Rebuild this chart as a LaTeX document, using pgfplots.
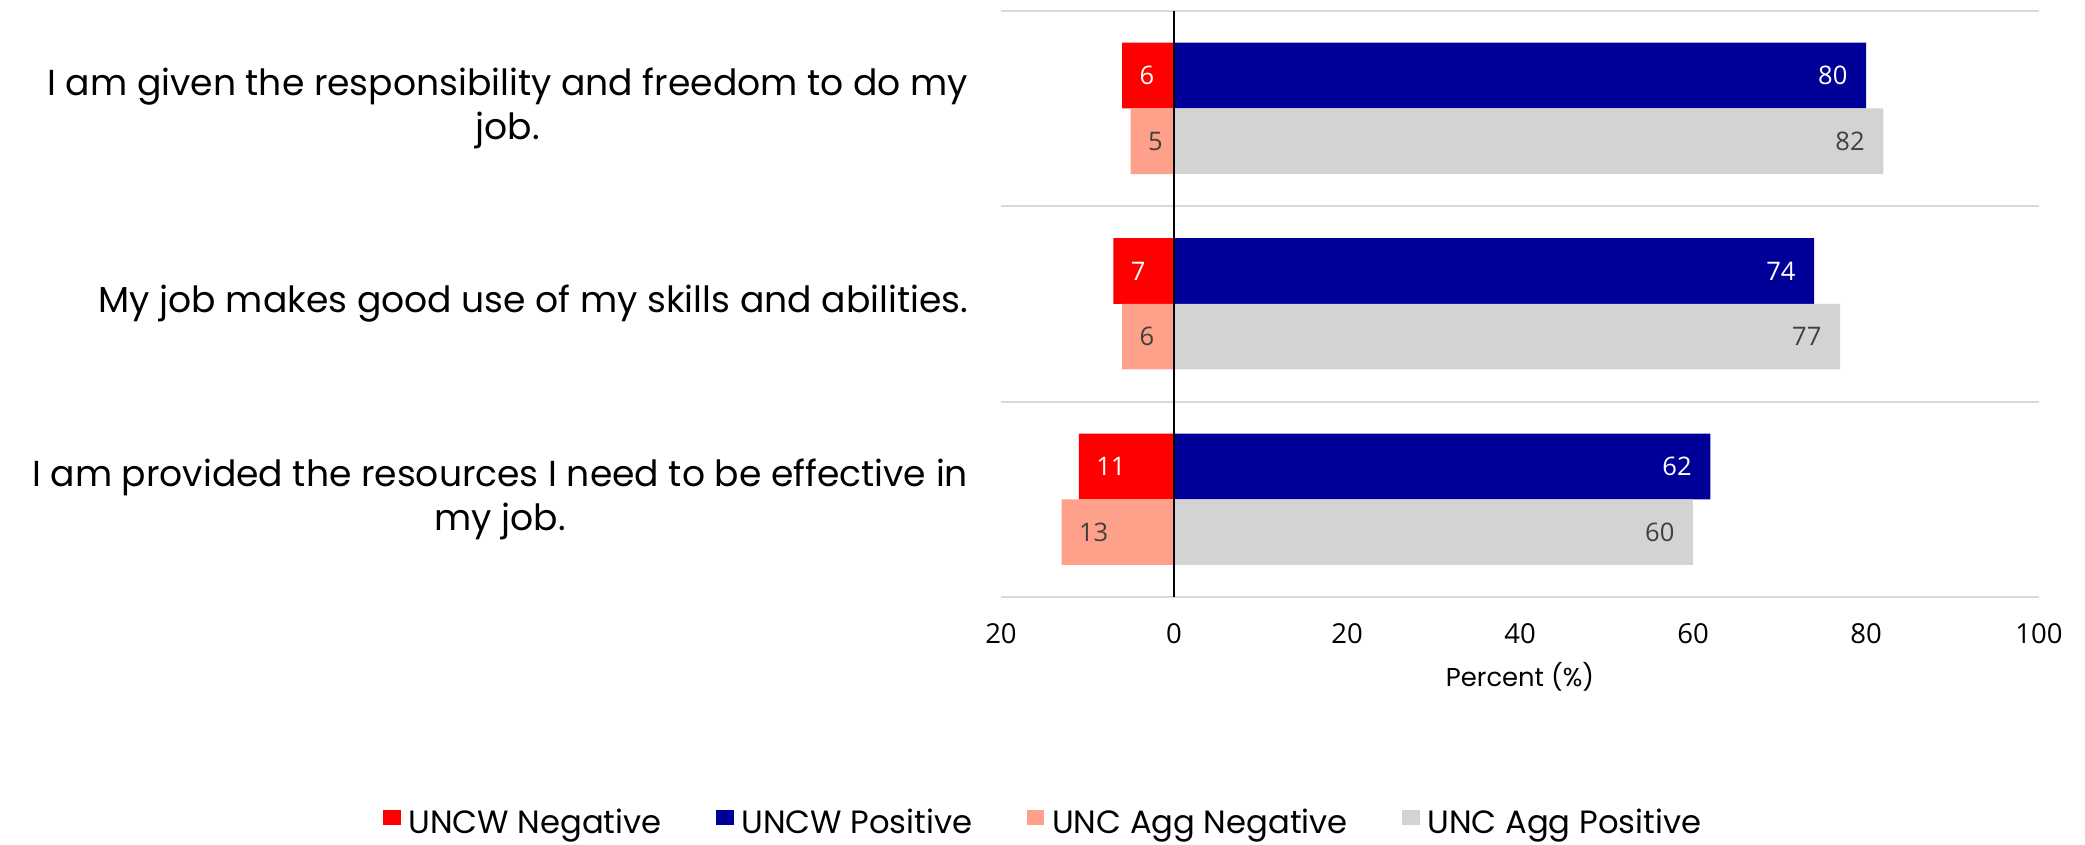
\documentclass[border=0pt]{standalone}
\usepackage{pgfplots}
\pgfplotsset{compat=1.18}
\usepackage{fontspec}
\setmainfont{Poppins}
\newfontfamily\numfont{Open Sans}
\definecolor{cRed}{HTML}{FF0000}
\definecolor{cBlue}{HTML}{000099}
\definecolor{cSalmon}{HTML}{FFA08A}
\definecolor{cGrey}{HTML}{D3D3D3}
\definecolor{cGrid}{HTML}{D9D9D9}
\definecolor{cLab}{HTML}{404040}
\pgfplotsset{
  sq legend/.style={legend image code/.code={\fill[##1,draw=none] (0pt,-0.6pt) rectangle (6.4pt,4.9pt);}},
  neglab/.style={point meta=explicit symbolic, nodes near coords,
     every node near coord/.append style={anchor=west, inner sep=0pt, xshift=6.1pt, text=#1, font=\numfont\fontsize{9.2}{11}\selectfont}},
  poslab/.style={point meta=explicit symbolic, nodes near coords,
     every node near coord/.append style={anchor=east, inner sep=0pt, xshift=-6.5pt, text=#1, font=\numfont\fontsize{9.2}{11}\selectfont}},
}
\begin{document}
\begin{tikzpicture}
\useasboundingbox (0pt,0pt) rectangle (750.6pt,304.2pt);
\begin{axis}[
  at={(360.36pt,89.28pt)}, anchor=south west,
  scale only axis, width=373.68pt, height=211.1pt,
  xmin=-20, xmax=100, ymin=0, ymax=3,
  xbar, bar width=0.336,
  xtick={-20,0,20,40,60,80,100},
  xticklabels={20,0,20,40,60,80,100},
  ytick={0.5,1.5,2.5},
  yticklabels={{I am provided the resources I need to be effective in\\my job.},{My job makes good use of my skills and abilities.},{I am given the responsibility and freedom to do my\\job.}},
  extra y ticks={0,1,2,3}, extra y tick labels={},
  extra y tick style={grid=major, major grid style={cGrid, line width=0.72pt}},
  axis line style={draw=none},
  tick style={draw=none},
  /pgf/number format/assume math mode=true,
  xticklabel style={font=\numfont\fontsize{9.9}{12}\selectfont, text=black, inner sep=0pt, anchor=north, yshift=-9.36pt},
  yticklabel style={font=\fontsize{13}{15.8}\selectfont, align=center, inner sep=0pt, anchor=east, xshift=-7.4pt},
  xlabel={Percent (\%)},
  xlabel style={at={(axis description cs:0.5,-0.1535)}, anchor=base, inner sep=0pt, font=\fontsize{9.3}{12}\selectfont},
  legend style={at={(axis description cs:0.0395,-0.3863)}, anchor=center, draw=none, fill=none,
     legend columns=4, font=\fontsize{11.6}{13}\selectfont, nodes={inner sep=0pt},
     /tikz/every odd column/.append style={column sep=2.8pt},
     /tikz/every even column/.append style={column sep=19.5pt}},
]
\addplot[fill=cRed, draw=none, bar shift=0pt, sq legend, neglab=white]
  coordinates {(-6,2.668)[6] (-7,1.668)[7] (-11,0.668)[11]};
\addplot[fill=cBlue, draw=none, bar shift=0pt, sq legend, poslab=white]
  coordinates {(80,2.668)[80] (74,1.668)[74] (62,0.668)[62]};
\addplot[fill=cSalmon, draw=none, bar shift=0pt, sq legend, neglab=cLab]
  coordinates {(-5,2.332)[5] (-6,1.332)[6] (-13,0.332)[13]};
\addplot[fill=cGrey, draw=none, bar shift=0pt, sq legend, poslab=cLab]
  coordinates {(82,2.332)[82] (77,1.332)[77] (60,0.332)[60]};
\addplot[black, line width=0.72pt, forget plot, sharp plot, mark=none] coordinates {(0,0) (0,3)};
\legend{UNCW Negative, UNCW Positive, UNC Agg Negative, UNC Agg Positive}
\end{axis}
\end{tikzpicture}
\end{document}
